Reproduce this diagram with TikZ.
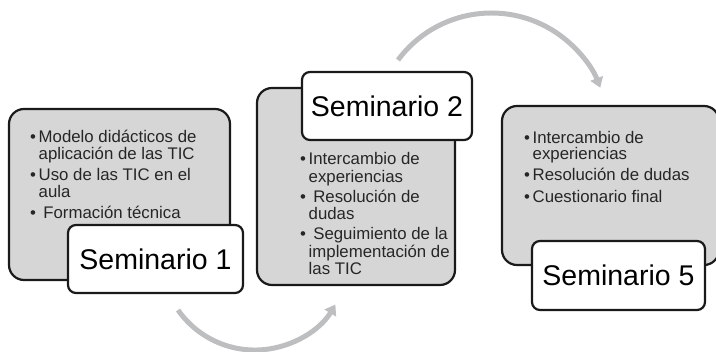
\documentclass[tikz,border=0pt]{standalone}
\usepackage{fontspec}
\setmainfont{Liberation Sans}
\usetikzlibrary{arrows.meta}
\definecolor{boxgray}{HTML}{D6D6D6}
\definecolor{arrowgray}{HTML}{BDBEC0}
\definecolor{edgeblack}{HTML}{1A1A1A}
\newcommand\bul{\makebox[8.5pt][l]{•}}
\newcommand\indt{\hspace*{8.5pt}}
\tikzset{
  graybox/.style={draw=edgeblack, line width=2.2pt, fill=boxgray, rounded corners=15pt, minimum width=#1},
  titlebox/.style={draw=edgeblack, line width=2.2pt, fill=white, rounded corners=8pt, font=\fontsize{28.5}{30}\selectfont, inner sep=0pt},
  listtext/.style={anchor=north west, inner sep=0pt, align=left, text=black!85},
  cyclearrow/.style={draw=arrowgray, line width=5pt, -{Triangle[width=13pt,length=10pt]}}
}
\begin{document}
\begin{tikzpicture}[x=1pt,y=1pt]
\clip (0,0) rectangle (716,352);
\useasboundingbox (0,0) rectangle (716,352);
% arrows
\coordinate (a1s) at ({254.9+93.9*cos(-145)},{95.85+93.9*sin(-145)});
\coordinate (a2s) at ({491.5+116.5*cos(143.4)},{222.5+116.5*sin(143.4)});
\draw[cyclearrow] (a1s) arc[start angle=-145, end angle=-31, radius=93.9];
\draw[cyclearrow] (a2s) arc[start angle=143.4, end angle=21, radius=116.5];
% gray boxes
\node[graybox=221pt, minimum height=171pt] (g1) at (119.5,157.5) {};
\node[graybox=198pt, minimum height=197pt] (g2) at (356,165.5) {};
\node[graybox=217pt, minimum height=159pt] (g3) at (610.5,166.5) {};
% title boxes
\node[titlebox, minimum width=175pt, minimum height=68pt] (t1) at (155.5,93) {Seminario 1};
\node[titlebox, minimum width=170pt, minimum height=68pt] (t2) at (387,246) {Seminario 2};
\node[titlebox, minimum width=173pt, minimum height=69pt] (t3) at (618.5,76.5) {Seminario 5};
% lists
\node[listtext, font=\fontsize{16.8}{17}\selectfont] (l1) at (30,222) {\bul Modelo didácticos de\\ \indt aplicación de las TIC\\[4pt]
\bul Uso de las TIC en el\\ \indt aula\\[4pt]
\bul\ Formación técnica};
\node[listtext, font=\fontsize{16.8}{17.5}\selectfont] (l2) at (300,199.5) {\bul Intercambio de\\ \indt experiencias\\[2.5pt]
\bul\ Resolución de\\ \indt dudas\\[2.5pt]
\bul\ Seguimiento de la\\ \indt implementación de\\ \indt las TIC};
\node[listtext, font=\fontsize{16.8}{16}\selectfont] (l3) at (524,221) {\bul Intercambio de\\ \indt experiencias\\[5.5pt]
\bul Resolución de dudas\\[5.5pt]
\bul Cuestionario final};
\end{tikzpicture}
\end{document}
